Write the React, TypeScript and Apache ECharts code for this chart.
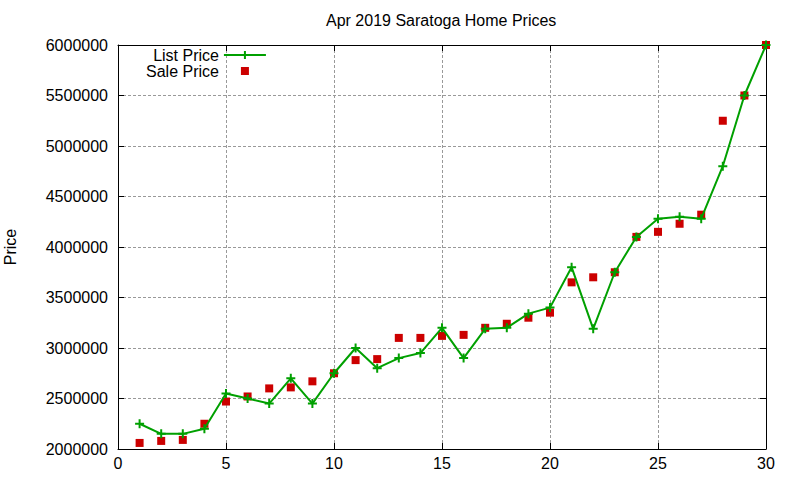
import React, { useEffect, useRef } from "react";
import * as echarts from "echarts";

const days = [
  1, 2, 3, 4, 5, 6, 7, 8, 9, 10, 11, 12, 13, 14, 15, 16, 17, 18, 19, 20, 21,
  22, 23, 24, 25, 26, 27, 28, 29, 30,
];

const listPrice = [
  2250000, 2150000, 2150000, 2200000, 2550000, 2500000, 2450000, 2700000,
  2450000, 2750000, 3000000, 2800000, 2900000, 2950000, 3200000, 2900000,
  3190000, 3200000, 3340000, 3400000, 3800000, 3190000, 3750000, 4100000,
  4280000, 4300000, 4280000, 4800000, 5500000, 6000000,
];

const salePrice = [
  2060000, 2080000, 2090000, 2250000, 2470000, 2520000, 2600000, 2610000,
  2670000, 2750000, 2880000, 2890000, 3100000, 3100000, 3120000, 3130000,
  3200000, 3240000, 3300000, 3350000, 3650000, 3700000, 3750000, 4100000,
  4150000, 4230000, 4320000, 5250000, 5500000, 6000000,
];

const FONT = '"Liberation Sans", Arial, sans-serif';
const GREEN = "#00a000";
const RED = "#cc0000";

// filled "+" marker, like gnuplot's point type 1
const PLUS = "path://M3.5,0H5.5V3.5H9V5.5H5.5V9H3.5V5.5H0V3.5H3.5Z";
// legend keys padded to the full 42x14 key box
const LIST_KEY = "path://M0,0M42,14M0,6H42V8H0ZM20,3H22V11H20Z";
const SALE_KEY = "path://M0,0M42,14M17,3H25V11H17Z";

const App = () => {
  const chartRef = useRef<HTMLDivElement>(null);

  useEffect(() => {
    if (!chartRef.current) return;
    const chart = echarts.init(chartRef.current, null, { renderer: "svg" });

    const tick = { show: true, inside: true, length: 6, lineStyle: { color: "#000" } };
    const line = { show: true, onZero: false, lineStyle: { color: "#000", width: 1 } };
    const grid = { show: true, lineStyle: { color: "#999", type: [3, 2] as number[] } };

    const option = {
      animation: false,
      title: {
        text: "Apr 2019 Saratoga Home Prices",
        left: 326,
        top: 12,
        padding: 0,
        textStyle: { fontFamily: FONT, fontSize: 16, fontWeight: "normal", color: "#000" },
      },
      legend: {
        orient: "vertical",
        align: "right",
        left: 146,
        top: 47,
        padding: 0,
        itemWidth: 42,
        itemHeight: 14,
        itemGap: 0,
        textStyle: { fontFamily: FONT, fontSize: 16, color: "#000", lineHeight: 16 },
        data: [
          { name: "List Price", icon: LIST_KEY },
          { name: "Sale Price", icon: SALE_KEY },
        ],
      },
      grid: { left: 118, right: 34, top: 45, bottom: 31, outerBoundsMode: "none" },
      xAxis: [
        {
          type: "value",
          min: 0,
          max: 30,
          interval: 5,
          axisLine: line,
          axisTick: tick,
          splitLine: grid,
          axisLabel: { fontFamily: FONT, fontSize: 16, color: "#000", margin: 6 },
        },
        {
          type: "value",
          position: "top",
          min: 0,
          max: 30,
          interval: 5,
          axisLine: line,
          axisTick: tick,
          splitLine: { show: false },
          axisLabel: { show: false },
        },
      ],
      yAxis: [
        {
          type: "value",
          min: 2000000,
          max: 6000000,
          interval: 500000,
          name: "Price",
          nameLocation: "middle",
          nameRotate: 90,
          nameGap: 100,
          nameTextStyle: { fontFamily: FONT, fontSize: 16, color: "#000" },
          axisLine: line,
          axisTick: tick,
          splitLine: grid,
          axisLabel: {
            fontFamily: FONT,
            fontSize: 16,
            color: "#000",
            margin: 10,
            formatter: (v: number) => String(v),
          },
        },
        {
          type: "value",
          position: "right",
          min: 2000000,
          max: 6000000,
          interval: 500000,
          axisLine: line,
          axisTick: tick,
          splitLine: { show: false },
          axisLabel: { show: false },
        },
      ],
      series: [
        {
          name: "List Price",
          type: "line",
          data: days.map((d, i) => [d, listPrice[i]]),
          symbol: PLUS,
          symbolSize: 9,
          showAllSymbol: true,
          clip: false,
          lineStyle: { color: GREEN, width: 2 },
          itemStyle: { color: GREEN, borderWidth: 0 },
        },
        {
          name: "Sale Price",
          type: "scatter",
          data: days.map((d, i) => [d, salePrice[i]]),
          symbol: "rect",
          symbolSize: 8,
          clip: false,
          itemStyle: { color: RED, opacity: 1 },
        },
      ],
    };

    chart.setOption(option);

    return () => {
      chart.dispose();
    };
  }, []);

  return (
    <div
      ref={chartRef}
      style={{ position: "fixed", left: 0, top: 0, width: "800px", height: "480px", background: "#fff" }}
    />
  );
};

export default App;
